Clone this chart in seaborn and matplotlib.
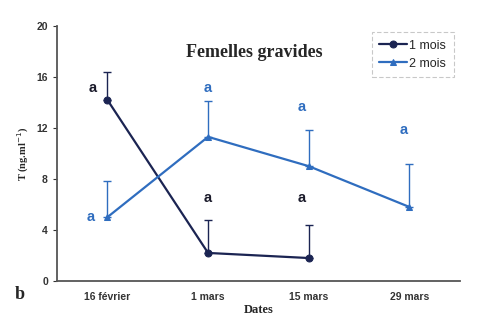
import pandas as pd
import seaborn as sns
import matplotlib.pyplot as plt

# Data
dates = ["16 février", "1 mars", "15 mars", "29 mars"]
mois1_dates = ["16 février", "1 mars", "15 mars"]
mois1_values = [14.2, 2.2, 1.8]
mois1_err = [2.2, 2.6, 2.6]
mois2_dates = ["16 février", "1 mars", "15 mars", "29 mars"]
mois2_values = [5.0, 11.3, 9.0, 5.8]
mois2_err = [2.8, 2.8, 2.8, 3.4]

# significance letters: (date, y, x offset)
letters_1 = [("16 février", 15.1, -0.15), ("1 mars", 6.5, 0.0), ("15 mars", 6.5, -0.07)]
letters_2 = [("16 février", 5.0, -0.17), ("1 mars", 15.1, 0.0), ("15 mars", 13.6, -0.07), ("29 mars", 11.8, -0.06)]

c1 = "#1b2452"
c2 = "#2f6dbf"

df = pd.concat([
    pd.DataFrame({"Dates": mois1_dates, "T": mois1_values, "err": mois1_err, "serie": "1 mois"}),
    pd.DataFrame({"Dates": mois2_dates, "T": mois2_values, "err": mois2_err, "serie": "2 mois"}),
])
df["x"] = df["Dates"].map({d: i for i, d in enumerate(dates)})

sns.set_style("white")
plt.rcParams["font.family"] = ["Liberation Sans", "DejaVu Sans"]

fig = plt.figure(figsize=(4.79, 3.23), dpi=100)
ax = fig.add_axes([0.119, 0.130, 0.841, 0.790])

sns.lineplot(data=df, x="x", y="T", hue="serie", style="serie",
             markers={"1 mois": "o", "2 mois": "^"}, dashes=False,
             palette={"1 mois": c1, "2 mois": c2}, markersize=5,
             linewidth=1.6, ax=ax, legend=True)
for line in ax.lines:
    line.set_markeredgecolor(line.get_color())

# upper-only error bars
for serie, col in [("1 mois", c1), ("2 mois", c2)]:
    sub = df[df["serie"] == serie]
    ax.errorbar(sub["x"], sub["T"], yerr=[[0] * len(sub), sub["err"]],
                fmt="none", ecolor=col, elinewidth=1.0, capsize=3, capthick=1.0)

idx = {d: i for i, d in enumerate(dates)}
for d, y, dx in letters_1:
    ax.text(idx[d] + dx, y, "a", color="#1a1a2a", fontsize=10.5, fontweight="bold",
            ha="center", va="center")
for d, y, dx in letters_2:
    ax.text(idx[d] + dx, y, "a", color=c2, fontsize=10.5, fontweight="bold",
            ha="center", va="center")

ax.set_xlim(-0.5, 3.5)
ax.set_ylim(0, 20)
ax.set_yticks([0, 4, 8, 12, 16, 20])
ax.set_xticks(range(len(dates)))
ax.set_xticklabels(dates)
ax.tick_params(axis="both", labelsize=7.5, length=3, colors="#333333", direction="out")
for lab in ax.get_xticklabels() + ax.get_yticklabels():
    lab.set_fontweight("bold")
ax.tick_params(axis="x", length=0, pad=8)
ax.tick_params(axis="y", left=True)

for s in ["top", "right"]:
    ax.spines[s].set_visible(False)
for s in ["left", "bottom"]:
    ax.spines[s].set_color("#555555")
    ax.spines[s].set_linewidth(1.3)

ax.set_xlabel("Dates", fontfamily="Liberation Serif", fontweight="bold", fontsize=9, labelpad=1)
ax.set_ylabel("T (ng.ml$^{-1}$)", fontfamily="Liberation Serif", fontweight="bold", fontsize=7.5, labelpad=4)

ax.text(0.49, 0.895, "Femelles gravides", transform=ax.transAxes, ha="center", va="center",
        fontfamily="Liberation Serif", fontweight="bold", fontsize=13)
fig.text(0.042, 0.087, "b", fontfamily="Liberation Serif", fontweight="bold", fontsize=13,
         ha="center", va="center")

handles, labels = ax.get_legend_handles_labels()
for h in handles:
    h.set_markeredgecolor(h.get_color())
leg = ax.legend(handles, labels, loc="upper right", bbox_to_anchor=(1.0, 1.0),
                fontsize=9, frameon=True, handlelength=2.2, borderpad=0.6,
                labelspacing=0.5, handletextpad=0.2)
leg.get_frame().set_edgecolor("#bbbbbb")
leg.get_frame().set_linestyle((0, (4, 2)))
leg.get_frame().set_linewidth(0.8)
leg.get_frame().set_boxstyle("square", pad=0)

fig.savefig("out.png", dpi=100)
